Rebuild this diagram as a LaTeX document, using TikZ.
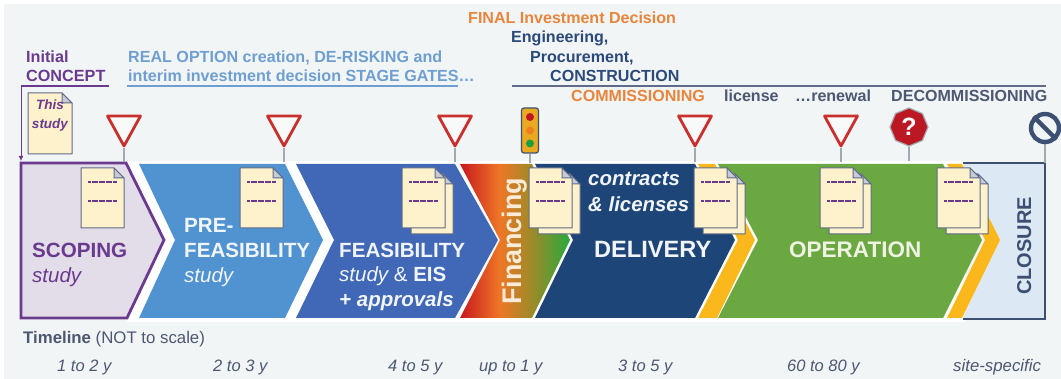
\documentclass[tikz,border=0pt]{standalone}
\usepackage{fontspec}
\setmainfont{Liberation Sans}
\usetikzlibrary{arrows.meta,shapes.geometric}
\definecolor{pagebg}{HTML}{F2F5F6}
\definecolor{purp}{HTML}{6A3A8E}
\definecolor{purpfill}{HTML}{E3DCE9}
\definecolor{lblue}{HTML}{6F9FD0}
\definecolor{prefill}{HTML}{5093D0}
\definecolor{feasfill}{HTML}{4068B6}
\definecolor{delfill}{HTML}{1E4577}
\definecolor{navytxt}{HTML}{2B4A7A}
\definecolor{orangetxt}{HTML}{E8853C}
\definecolor{greytxt}{HTML}{4C5872}
\definecolor{yel}{HTML}{FBB81C}
\definecolor{opfill}{HTML}{6BA841}
\definecolor{closefill}{HTML}{DCE8F4}
\definecolor{closeline}{HTML}{3D5072}
\definecolor{cream}{HTML}{FDF2CC}
\definecolor{sheetline}{HTML}{5F6B88}
\definecolor{signred}{HTML}{C9302B}
\definecolor{stopred}{HTML}{BC1823}
\definecolor{polegrey}{HTML}{A3A9B0}
\definecolor{tlfill}{HTML}{E9A921}
\definecolor{whitish}{HTML}{F1F5FA}
\definecolor{opwhite}{HTML}{EEF3E3}
\definecolor{finwhite}{HTML}{FCEBD8}
\definecolor{finred}{HTML}{C8171F}
\definecolor{finorange}{HTML}{EE7726}
\definecolor{finolive}{HTML}{9A8B28}
\definecolor{fingreen}{HTML}{35A63C}
\definecolor{lampgreen}{HTML}{1FA040}
\definecolor{lamporange}{HTML}{EE7E22}
\pgfdeclarehorizontalshading{finshade}{100bp}{color(0bp)=(finred);color(25bp)=(finred);color(43bp)=(finorange);color(58bp)=(finolive);color(73bp)=(fingreen);color(100bp)=(fingreen)}
\tikzset{
  x=1pt,y=-1pt,
  lab/.style={inner sep=0pt,anchor=base west},
  bold/.style={lab,font=\fontsize{#1}{#1}\selectfont\bfseries},
  ital/.style={lab,font=\fontsize{#1}{#1}\selectfont\itshape},
  bolditalic/.style={lab,font=\fontsize{#1}{#1}\selectfont\bfseries\itshape},
  plainf/.style={lab,font=\fontsize{#1}{#1}\selectfont},
  pole/.style={polegrey,line width=1.8pt},
  sheetedge/.style={draw=sheetline,fill=cream,line width=1pt,line join=round},
  dashline/.style={purp,line width=1.5pt,dash pattern=on 3pt off .5pt},
  singlesheet/.pic={
    \draw[sheetedge] (0,0) -- (33,0) -- (43,10) -- (43,60) -- (0,60) -- cycle;
    \draw[sheetedge,fill=sheetline!35] (33,0) -- (33,10) -- (43,10) -- cycle;
    \draw[dashline] (7,14) -- (36,14);
    \draw[dashline] (7,33) -- (36,33);
  },
  doublesheet/.pic={
    \draw[sheetedge] (9,6) -- (41,6) -- (51,16) -- (51,66) -- (9,66) -- cycle;
    \draw[sheetedge,fill=sheetline!35] (41,6) -- (41,16) -- (51,16) -- cycle;
    \draw[sheetedge] (0,0) -- (33,0) -- (43,10) -- (43,60) -- (0,60) -- cycle;
    \draw[sheetedge,fill=sheetline!35] (33,0) -- (33,10) -- (43,10) -- cycle;
    \draw[dashline] (7,14) -- (36,14);
    \draw[dashline] (7,33) -- (36,33);
  },
  yieldsign/.pic={
    \draw[signred,fill=pagebg!50!white,line width=2.8pt,line join=round] (-16.5,0) -- (16.5,0) -- (0,30) -- cycle;
  },
}
\begin{document}
\begin{tikzpicture}
\useasboundingbox (0,0) rectangle (1061,379);
\fill[white] (0,0) rectangle (1061,379);
\fill[pagebg] (4,4) rectangle (1061,379);
\fill[white] (127,161) rectangle (966,322);
% bands
\fill[closefill] (963,164) -- (1044,164) -- (1044,318) -- (963,318) -- (1000,240) -- cycle;
\draw[closeline,line width=2.4pt,line join=miter] (963,163) -- (1045,163) -- (1045,319) -- (963,319);
\draw[purp,line width=2.8pt,fill=purpfill,line join=miter] (21,163) -- (126,163) -- (164,240) -- (127,318) -- (21,318) -- cycle;
\fill[prefill] (139,164) -- (285,164) -- (323,240) -- (285,318) -- (139,318) -- (175,240) -- cycle;
\fill[feasfill] (296,164) -- (455,164) -- (498,240) -- (455,318) -- (296,318) -- (334,240) -- cycle;
\shade[shading=finshade] (460,164) -- (532,164) -- (570,240) -- (532,318) -- (460,318) -- (500,240) -- cycle;
\fill[delfill] (535,164) -- (695,164) -- (735,240) -- (695,318) -- (535,318) -- (573,240) -- cycle;
\fill[yel] (698,164) -- (715,164) -- (755,240) -- (717,318) -- (698,318) -- (738,240) -- cycle;
\fill[opfill] (718,164) -- (943,164) -- (982,240) -- (943,318) -- (718,318) -- (758,240) -- cycle;
\fill[yel] (947,164) -- (962,164) -- (1000,240) -- (962,318) -- (947,318) -- (985,240) -- cycle;
% sheets
\pic at (81,168) {singlesheet};
\pic at (240,168) {singlesheet};
\pic at (402,168) {doublesheet};
\pic at (529,168) {doublesheet};
\pic at (694,168) {doublesheet};
\pic at (820,168) {doublesheet};
\pic at (937,168) {doublesheet};
% this-study sheet
\draw[sheetedge] (28,93) -- (62,93) -- (72,103) -- (72,154) -- (28,154) -- cycle;
\draw[sheetedge,fill=sheetline!35] (62,93) -- (62,103) -- (72,103) -- cycle;
\node[bolditalic=13.5,text=purp,anchor=base] (thisword) at (50,110) {This};
\node[bolditalic=13.5,text=purp,anchor=base] (studyword) at (50,129) {study};
% rules and arrow
\coordinate (cstart) at (109,86);
\coordinate (ccorner) at (21,86);
\coordinate (scopetop) at (21,161);
\draw[purp,line width=1.2pt] (cstart) -- (ccorner);
\draw[purp,line width=1pt,-{Latex[length=5pt,width=5pt]}] (ccorner) -- (scopetop);
\coordinate (rstart) at (127,86);
\coordinate (rend) at (458,86);
\draw[lblue,line width=1.2pt] (rstart) -- (rend);
\coordinate (estart) at (512,86);
\coordinate (eend) at (1046,86);
\draw[sheetline,line width=1.2pt] (estart) -- (eend);
% yield signs
\foreach \nm/\cx in {ya/124,yb/284,yc/455,yd/695,ye/841}{
  \pic at (\cx,116) {yieldsign};
  \coordinate (\nm top) at (\cx,148);
  \coordinate (\nm foot) at (\cx,162);
  \draw[pole] (\nm top) -- (\nm foot);
}
% traffic light
\coordinate (tlfoot) at (530,163);
\node[draw=closeline,fill=tlfill,line width=1.2pt,rounded corners=2.5pt,minimum width=17pt,minimum height=45pt,inner sep=0pt] (tl) at (530,130.5) {};
\draw[pole] (tl.south) -- (tlfoot);
\fill[stopred] (530,117) circle (4pt);
\fill[lamporange] (530,130.5) circle (4pt);
\fill[lampgreen] (530,143.5) circle (4pt);
% stop sign
\coordinate (stopfoot) at (909,161);
\node[regular polygon,regular polygon sides=8,shape border rotate=22.5,draw=polegrey,fill=stopred,line width=1.2pt,minimum size=38pt,inner sep=0pt,text=white,font=\fontsize{25}{25}\selectfont\bfseries] (stopsign) at (909,127) {?};
\draw[pole] (stopsign.south) -- (stopfoot);
% no-entry sign
\coordinate (nofoot) at (1045,163);
\draw[pole] (1045,144) -- (nofoot);
\node[circle,draw=closeline,fill=pagebg,line width=4.4pt,minimum size=28pt,inner sep=0pt] (nosign) at (1045,128) {};
\draw[closeline,line width=4.4pt] (nosign.135) -- (nosign.-45);
% top labels
\node[bold=16.2,text=purp] (t1) at (26,63) {Initial};
\node[bold=16.2,text=purp] (t2) at (26,82) {CONCEPT};
\node[bold=16.1,text=lblue] (t3) at (128,63) {REAL OPTION creation, DE-RISKING and};
\node[bold=16.1,text=lblue] (t4) at (128,82) {interim investment decision STAGE GATES…};
\node[bold=16.05,text=orangetxt] (t5) at (468,24) {FINAL Investment Decision};
\node[bold=16.05,text=navytxt] (t6) at (511,43) {Engineering,};
\node[bold=16.05,text=navytxt] (t7) at (530,63) {Procurement,};
\node[bold=16.05,text=navytxt] (t8) at (550,82) {CONSTRUCTION};
\node[bold=16.05,text=orangetxt] (t9) at (571,102) {COMMISSIONING};
\node[bold=16.05,text=greytxt] (t10) at (724,102) {license};
\node[bold=16.05,text=greytxt] (t11) at (795,102) {…renewal};
\node[bold=16.05,text=greytxt] (t12) at (891,102) {DECOMMISSIONING};
% band labels
\node[bold=20.6,text=purp] (s1) at (32,258) {SCOPING};
\node[ital=20.5,text=purp] (s2) at (32,283) {study};
\node[bold=20.6,text=whitish] (p1) at (184,233) {PRE-};
\node[bold=20.6,text=whitish] (p2) at (184,258) {FEASIBILITY};
\node[ital=20.5,text=whitish] (p3) at (184,283) {study};
\node[bold=20.6,text=whitish] (f1) at (339,258) {FEASIBILITY};
\node[plainf=20.5,text=whitish] (f2) at (339,282) {\itshape study \upshape\&\ \bfseries EIS};
\node[bolditalic=20.5,text=whitish] (f3) at (339,307) {+ approvals};
\node[bold=26.9,text=finwhite,rotate=90] (fin) at (521,305) {Financing};
\node[bolditalic=20.4,text=whitish] (d1) at (588,186) {contracts};
\node[bolditalic=20.4,text=whitish] (d2) at (588,212) {\& licenses};
\node[bold=23.6,text=whitish] (d3) at (594,258) {DELIVERY};
\node[bold=22.5,text=opwhite] (o1) at (789,258) {OPERATION};
\node[bold=20,text=closeline,rotate=90] (c1) at (1031,295) {CLOSURE};
% timeline
\node[plainf=16.8,text=greytxt] (tl0) at (23,344) {\bfseries Timeline \mdseries(NOT to scale)};
\node[ital=16.5,text=greytxt] (y1) at (57,372) {1 to 2 y};
\node[ital=16.5,text=greytxt] (y2) at (213,372) {2 to 3 y};
\node[ital=16.5,text=greytxt] (y3) at (388,372) {4 to 5 y};
\node[ital=16.5,text=greytxt] (y4) at (479,372) {up to 1 y};
\node[ital=16.5,text=greytxt] (y5) at (618,372) {3 to 5 y};
\node[ital=16.5,text=greytxt] (y6) at (787,372) {60 to 80 y};
\node[ital=16.8,text=greytxt] (y7) at (953,372) {site-specific};
\end{tikzpicture}
\end{document}
